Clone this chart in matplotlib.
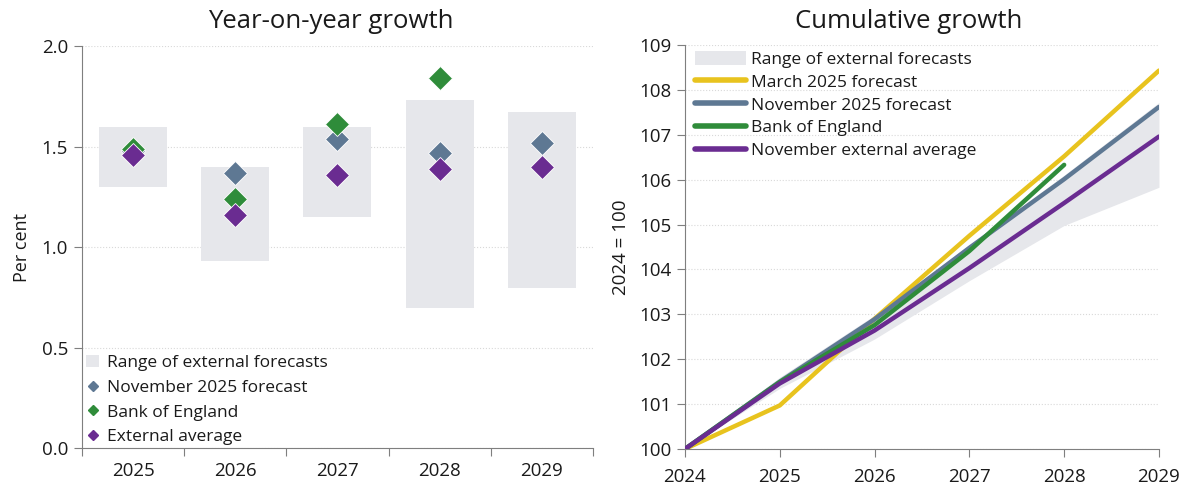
import matplotlib
matplotlib.use("Agg")
import matplotlib.pyplot as plt
from matplotlib.patches import Patch
from matplotlib.lines import Line2D
import numpy as np

plt.rcParams['font.family'] = ['Open Sans', 'DejaVu Sans']

# ---- data: year-on-year growth ----
yoy_years = ["2025", "2026", "2027", "2028", "2029"]
range_low = [1.30, 0.93, 1.15, 0.70, 0.80]
range_high = [1.60, 1.40, 1.60, 1.73, 1.67]
nov2025_yoy = [1.48, 1.37, 1.54, 1.47, 1.52]
boe_yoy = [1.49, 1.24, 1.61, 1.84, np.nan]
ext_avg_yoy = [1.46, 1.16, 1.36, 1.39, 1.40]

# ---- data: cumulative growth (2024 = 100) ----
cum_years = [2024, 2025, 2026, 2027, 2028, 2029]
cum_range_low = [100.0, 101.35, 102.45, 103.75, 104.98, 105.83]
cum_range_high = [100.0, 101.60, 102.98, 104.55, 106.10, 107.72]
march2025_cum = [100.0, 100.97, 102.90, 104.75, 106.52, 108.43]
nov2025_cum = [100.0, 101.50, 102.89, 104.48, 106.01, 107.62]
boe_cum = [100.0, 101.49, 102.76, 104.41, 106.33, np.nan]
ext_avg_cum = [100.0, 101.46, 102.64, 104.03, 105.48, 106.96]

C_RANGE = "#E6E7EB"
C_NOV = "#5E7893"
C_BOE = "#2F8C3A"
C_EXT = "#6A2C91"
C_MAR = "#E8C31E"
C_AX = "#7F7F7F"
C_GRID = "#D9D9D9"
C_TXT = "#1A1A1A"

TICK_FS = 13.5
LEG_FS = 12.5

fig = plt.figure(figsize=(12, 4.9), dpi=100)

# ---------------- left panel ----------------
ax1 = fig.add_axes([0.0683, 0.0847, 0.4258, 0.8214])
x = np.arange(len(yoy_years))
ax1.bar(x, np.array(range_high) - np.array(range_low), bottom=range_low,
        width=0.665, color=C_RANGE, zorder=1)
mk = dict(linestyle='none', marker='D', markersize=12, markeredgecolor='white',
          markeredgewidth=0.6)
ax1.plot(x, nov2025_yoy, color=C_NOV, zorder=3, **mk)
ax1.plot(x, boe_yoy, color=C_BOE, zorder=4, **mk)
ax1.plot(x, ext_avg_yoy, color=C_EXT, zorder=5, **mk)
ax1.set_xlim(-0.5, len(yoy_years) - 0.5)
ax1.set_ylim(0, 2.0)
ax1.set_yticks([0.0, 0.5, 1.0, 1.5, 2.0])
ax1.set_yticklabels(["0.0", "0.5", "1.0", "1.5", "2.0"])
ax1.set_xticks(np.arange(-0.5, len(yoy_years)))
ax1.set_xticklabels([])
ax1.set_xticks(x, minor=True)
ax1.set_xticklabels(yoy_years, minor=True)
ax1.tick_params(axis='x', which='minor', length=0, pad=10, labelsize=TICK_FS,
                labelcolor=C_TXT)
ax1.tick_params(axis='x', which='major', length=6, color=C_AX)
ax1.tick_params(axis='y', length=6, color=C_AX, labelsize=TICK_FS, pad=4,
                labelcolor=C_TXT)
ax1.set_ylabel("Per cent", fontsize=13, labelpad=8, color=C_TXT)
for s in ["top", "right"]:
    ax1.spines[s].set_visible(False)
for s in ["left", "bottom"]:
    ax1.spines[s].set_color(C_AX)
ax1.yaxis.grid(True, color=C_GRID, linestyle=':', linewidth=0.8, zorder=0)
ax1.set_axisbelow(True)

h1 = [Patch(facecolor=C_RANGE, edgecolor='none'),
      Line2D([], [], marker='D', color=C_NOV, linestyle='none', markersize=5),
      Line2D([], [], marker='D', color=C_BOE, linestyle='none', markersize=5),
      Line2D([], [], marker='D', color=C_EXT, linestyle='none', markersize=5)]
l1 = ["Range of external forecasts", "November 2025 forecast", "Bank of England",
      "External average"]
leg1 = ax1.legend(h1, l1, loc='lower left', bbox_to_anchor=(0.008, 0.008),
                  frameon=False, fontsize=LEG_FS, handlelength=0.75,
                  handleheight=0.75, handletextpad=0.45, labelspacing=0.48,
                  borderaxespad=0.0, borderpad=0.0)
for t in leg1.get_texts():
    t.set_color(C_TXT)

# ---------------- right panel ----------------
ax2 = fig.add_axes([0.5708, 0.0837, 0.395, 0.8245])
ax2.fill_between(cum_years, cum_range_low, cum_range_high, color=C_RANGE,
                 linewidth=0, zorder=1)
lw = 3.2
ax2.plot(cum_years, march2025_cum, color=C_MAR, linewidth=lw, zorder=3,
         solid_capstyle='round')
ax2.plot(cum_years, nov2025_cum, color=C_NOV, linewidth=lw, zorder=4,
         solid_capstyle='round')
ax2.plot(cum_years, boe_cum, color=C_BOE, linewidth=lw, zorder=5,
         solid_capstyle='round')
ax2.plot(cum_years, ext_avg_cum, color=C_EXT, linewidth=lw, zorder=6,
         solid_capstyle='round')
ax2.set_xlim(2024, 2029)
ax2.set_ylim(100, 109)
ax2.set_xticks(cum_years)
ax2.set_xticklabels([str(y) for y in cum_years])
ax2.set_yticks(np.arange(100, 110))
ax2.tick_params(axis='x', length=6, color=C_AX, labelsize=TICK_FS, pad=8,
                labelcolor=C_TXT)
ax2.tick_params(axis='y', length=6, color=C_AX, labelsize=TICK_FS, pad=4,
                labelcolor=C_TXT)
ax2.set_ylabel("2024 = 100", fontsize=TICK_FS, labelpad=6, color=C_TXT)
for s in ["top", "right"]:
    ax2.spines[s].set_visible(False)
for s in ["left", "bottom"]:
    ax2.spines[s].set_color(C_AX)
ax2.yaxis.grid(True, color=C_GRID, linestyle=':', linewidth=0.8, zorder=0)
ax2.set_axisbelow(True)

h2 = [Patch(facecolor=C_RANGE, edgecolor='none'),
      Line2D([], [], color=C_MAR, linewidth=4, solid_capstyle='round'),
      Line2D([], [], color=C_NOV, linewidth=4, solid_capstyle='round'),
      Line2D([], [], color=C_BOE, linewidth=4, solid_capstyle='round'),
      Line2D([], [], color=C_EXT, linewidth=4, solid_capstyle='round')]
l2 = ["Range of external forecasts", "March 2025 forecast", "November 2025 forecast",
      "Bank of England", "November external average"]
leg2 = ax2.legend(h2, l2, loc='upper left', bbox_to_anchor=(0.022, 0.985),
                  frameon=False, fontsize=LEG_FS, handlelength=2.9,
                  handleheight=0.9, handletextpad=0.3, labelspacing=0.32,
                  borderaxespad=0.0, borderpad=0.0)
for t in leg2.get_texts():
    t.set_color(C_TXT)

fig.text(0.276, 0.957, "Year-on-year growth", ha='center', va='center',
         fontsize=18.5, color=C_TXT)
fig.text(0.7575, 0.957, "Cumulative growth", ha='center', va='center',
         fontsize=18.5, color=C_TXT)

fig.savefig("out.png", dpi=100)
